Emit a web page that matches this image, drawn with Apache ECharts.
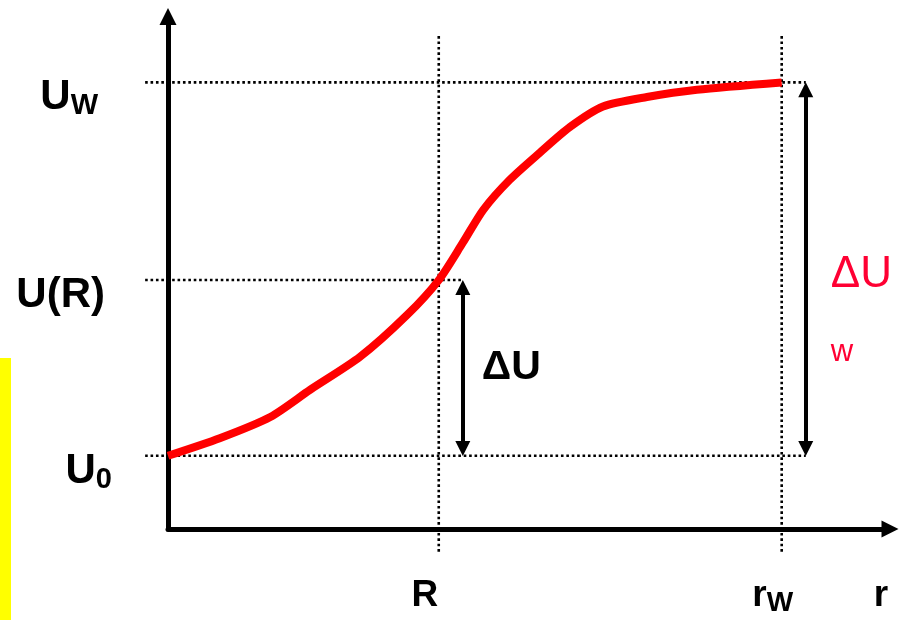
<!DOCTYPE html>
<html lang="en">
<head>
    <meta charset="UTF-8">
    <title>U(r)</title>
    <script src="https://cdn.jsdelivr.net/npm/echarts@6/dist/echarts.min.js"></script>
    <style>
        html, body { margin: 0; padding: 0; background: #fff; }
    </style>
</head>
<body>
<div id="main" style="width: 905px;height:620px;"></div>
<script type="text/javascript">
    // 曲线数据 (r, U)
    var rCurve = [0, 0.86, 1.70, 2.36, 3.19, 3.97, 4.5, 4.90, 5.24, 5.68, 6.18, 6.68, 7.23, 7.96, 8.79, 10.2];
    var uCurve = [1.0, 1.24, 1.53, 1.90, 2.35, 2.92, 3.4, 3.91, 4.36, 4.77, 5.14, 5.49, 5.77, 5.90, 6.00, 6.1];

    // 特征值
    var R = 4.5, rW = 10.2, rMax = 12;
    var U0 = 1.0, UR = 3.4, UW = 6.1, uMax = 7;

    // 刻度标签
    var rTicks = [R, rW, rMax];
    var rTickMain = ['R', 'r', 'r'];
    var rTickSub = ['', 'W', ''];
    var uTicks = [U0, UR, UW];
    var uTickMain = ['U', 'U(R)', 'U'];
    var uTickSub = ['0', '', 'W'];

    var FONT = '"Liberation Sans", Arial, sans-serif';
    var myChart = echarts.init(document.getElementById('main'));

    var pts = rCurve.map(function (r, i) { return [r, uCurve[i]]; });

    // 虚线的延伸范围
    var guideLeft = -0.38, guideBottom = -0.31, guideTop = 6.75;
    var arrowDx = 0.4;
    var guides = [
        [guideLeft, UW, rW + arrowDx, UW],
        [guideLeft, UR, R + arrowDx, UR],
        [guideLeft, U0, rW + arrowDx, U0],
        [R, guideBottom, R, guideTop],
        [rW, guideBottom, rW, guideTop]
    ];

    function tickFmt(ticks, mains, subs, cls) {
        return function (v) {
            for (var i = 0; i < ticks.length; i++) {
                if (Math.abs(v - ticks[i]) < 1e-6) {
                    var s = '{' + cls + i + '|' + mains[i] + '}';
                    if (subs[i]) s += '{s' + cls + i + '|' + subs[i] + '}';
                    return s;
                }
            }
            return '';
        };
    }

    function bold(size, extra) {
        var o = { fontFamily: FONT, fontSize: size, fontWeight: 'bold', color: '#000' };
        for (var k in extra) o[k] = extra[k];
        return o;
    }

    var option = {
        animation: false,
        grid: { left: 168, right: 15, top: 16.5, bottom: 91, outerBoundsMode: 'none' },
        graphic: [{
            type: 'rect', left: 0, top: 358,
            shape: { width: 11, height: 262 },
            style: { fill: '#ffff00' }
        }],
        xAxis: {
            type: 'value', min: 0, max: rMax,
            splitLine: { show: false },
            axisTick: { show: false },
            axisLine: {
                onZero: false,
                symbol: ['none', 'triangle'], symbolSize: [17, 17],
                lineStyle: { color: '#000', width: 5 }
            },
            axisLabel: {
                customValues: rTicks,
                margin: 48, verticalAlign: 'top',
                formatter: tickFmt(rTicks, rTickMain, rTickSub, 'x'),
                rich: {
                    x0: bold(37, { lineHeight: 40, verticalAlign: 'top', padding: [0, 28, 0, 0] }),
                    x1: bold(37, { lineHeight: 40, verticalAlign: 'top' }),
                    sx1: bold(28, { lineHeight: 28, verticalAlign: 'bottom', padding: [29, 18, 0, 0] }),
                    x2: bold(37, { lineHeight: 40, verticalAlign: 'top', padding: [0, 18, 0, 0] })
                }
            }
        },
        yAxis: {
            type: 'value', min: 0, max: uMax,
            splitLine: { show: false },
            axisTick: { show: false },
            axisLine: {
                onZero: false,
                symbol: ['none', 'triangle'], symbolSize: [17, 17],
                lineStyle: { color: '#000', width: 5 }
            },
            axisLabel: {
                customValues: uTicks,
                margin: 56, align: 'right',
                padding: [33, 0, 0, 0],
                formatter: tickFmt(uTicks, uTickMain, uTickSub, 'y'),
                rich: {
                    y0: bold(42, { lineHeight: 44, verticalAlign: 'top' }),
                    sy0: bold(29, { lineHeight: 29, verticalAlign: 'bottom', padding: [24, 0, 0, 0] }),
                    y1: bold(42, { lineHeight: 44, verticalAlign: 'top', padding: [0, 7, 9, 0] }),
                    y2: bold(42, { lineHeight: 44, verticalAlign: 'top' }),
                    sy2: bold(29, { lineHeight: 29, verticalAlign: 'bottom', padding: [24, 14, 0, 0] })
                }
            }
        },
        series: [
            {
                name: 'guides',
                type: 'custom',
                silent: true,
                encode: { x: [0, 2], y: [1, 3] },
                data: guides,
                renderItem: function (params, api) {
                    var a = api.coord([api.value(0), api.value(1)]);
                    var b = api.coord([api.value(2), api.value(3)]);
                    return {
                        type: 'line',
                        shape: { x1: a[0], y1: a[1], x2: b[0], y2: b[1] },
                        style: { stroke: '#000', lineWidth: 2.6, lineDash: [2.6, 2.8] }
                    };
                },
                z: 1
            },
            {
                name: 'U(r)',
                type: 'line',
                data: pts,
                smooth: 0.25,
                symbol: 'none',
                clip: false,
                lineStyle: { color: '#ff0000', width: 8 },
                z: 5,
                markLine: {
                    silent: true,
                    symbol: ['triangle', 'triangle'],
                    symbolSize: [15, 15],
                    label: { show: false },
                    lineStyle: { color: '#000', width: 4, type: 'solid' },
                    data: [
                        [{ coord: [R + arrowDx, UR - 0.1] }, { coord: [R + arrowDx, U0 + 0.1] }],
                        [{ coord: [rW + arrowDx, UW - 0.1] }, { coord: [rW + arrowDx, U0 + 0.1] }]
                    ]
                }
            },
            {
                type: 'scatter',
                symbolSize: 0,
                clip: false,
                silent: true,
                itemStyle: { opacity: 1 },
                data: [
                    {
                        value: [R + arrowDx, (U0 + UR) / 2],
                        label: {
                            show: true, position: 'right', distance: 19, color: '#000', opacity: 1,
                            formatter: '{d|\u0394U}',
                            rich: { d: bold(41, {}) }
                        }
                    },
                    {
                        value: [rW + arrowDx, (U0 + UW) / 2],
                        label: {
                            show: true, position: 'right', distance: 27, color: '#ff0033', opacity: 1,
                            verticalAlign: 'top', offset: [-2, -19],
                            formatter: '{d|\u0394U}\n{w|w}',
                            rich: {
                                d: { fontFamily: FONT, fontSize: 44, color: '#ff0033', lineHeight: 50 },
                                w: { fontFamily: FONT, fontSize: 31, color: '#ff0033', lineHeight: 104 }
                            }
                        }
                    }
                ]
            }
        ]
    };
    myChart.setOption(option);
</script>
</body>
</html>
